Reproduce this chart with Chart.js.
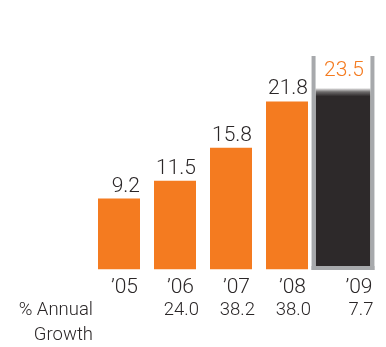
<!DOCTYPE html>
<html>
<head>
<meta charset="utf-8">
<script src="https://cdn.jsdelivr.net/npm/chart.js@4.4.1/dist/chart.umd.min.js"></script>
<style>
  html, body { margin: 0; padding: 0; background: #ffffff; }
  canvas { display: block; }
</style>
</head>
<body>
<canvas id="chart" width="386" height="347"></canvas>
<script>
// Revenue by year (billions) and year-over-year growth (%)
const years = ['\u201905', '\u201906', '\u201907', '\u201908', '\u201909'];
const revenue = [9.2, 11.5, 15.8, 21.8, 23.5];
const growth = [null, 24.0, 38.2, 38.0, 7.7];
const growthCaption = ['% Annual', 'Growth'];
const highlightIndex = 4; // latest year gets the framed dark bar

const ORANGE = '#f47b20';
const DARK = '#2d292a';
const FRAME = '#a7a9ac';
const TEXT = '#2a2627';
const FONT = 'Roboto, "Liberation Sans", Arial, sans-serif';
const FRAME_W = 4;

const pastValues = revenue.map((v, i) => (i === highlightIndex ? null : v));
const latestValues = revenue.map((v, i) => (i === highlightIndex ? v : null));

// Dark bar fades in softly at its top edge
function latestFill(context) {
  const chart = context.chart;
  const v = context.raw;
  if (!chart.chartArea || v == null) return DARK;
  const y = chart.scales.y.getPixelForValue(v);
  const g = chart.ctx.createLinearGradient(0, y, 0, y + 8);
  g.addColorStop(0, 'rgba(45,41,42,0.12)');
  g.addColorStop(0.45, 'rgba(45,41,42,0.7)');
  g.addColorStop(1, DARK);
  return g;
}

const annotate = {
  id: 'annotate',
  afterDatasetsDraw(chart) {
    const ctx = chart.ctx;
    const area = chart.chartArea;
    const past = chart.getDatasetMeta(0).data;
    const latest = chart.getDatasetMeta(1).data;
    const barAt = i => (i === highlightIndex ? latest[i] : past[i]);

    ctx.save();

    // grey frame around the latest bar
    const hb = latest[highlightIndex];
    const hl = hb.x - hb.width / 2;
    const hr = hb.x + hb.width / 2;
    const bottom = hb.base + 0.5;
    ctx.fillStyle = FRAME;
    ctx.fillRect(hl - FRAME_W, area.top, FRAME_W, bottom - area.top);
    ctx.fillRect(hr, area.top, FRAME_W, bottom - area.top);
    ctx.fillRect(hl - FRAME_W, bottom - FRAME_W, hb.width + 2 * FRAME_W, FRAME_W);

    ctx.textBaseline = 'alphabetic';
    const yearBase = area.bottom + 23.5;
    const growthBase = area.bottom + 45.5;

    years.forEach((label, i) => {
      const el = barAt(i);
      const isLatest = i === highlightIndex;
      const right = isLatest ? hr + FRAME_W : el.x + el.width / 2;

      // value above each bar
      ctx.font = '300 21px ' + FONT;
      if (isLatest) {
        ctx.fillStyle = ORANGE;
        ctx.textAlign = 'center';
        ctx.fillText(revenue[i].toFixed(1), el.x + 1, el.y - 12);
      } else {
        ctx.fillStyle = TEXT;
        ctx.textAlign = 'right';
        ctx.fillText(revenue[i].toFixed(1), right, el.y - 7);
      }

      // year label
      ctx.fillStyle = TEXT;
      ctx.textAlign = 'right';
      ctx.font = '300 21px ' + FONT;
      ctx.fillText(label, right - 2, yearBase);

      // growth row
      if (growth[i] != null) {
        ctx.font = '300 18.5px ' + FONT;
        ctx.fillText(growth[i].toFixed(1), right + (isLatest ? -1 : 3), growthBase);
      }
    });

    // row caption
    ctx.font = '300 18.5px ' + FONT;
    ctx.textAlign = 'right';
    ctx.fillStyle = TEXT;
    ctx.fillText(growthCaption[0], area.left + 2, growthBase);
    ctx.fillText(growthCaption[1], area.left + 2, growthBase + 25);

    ctx.restore();
  }
};

new Chart(document.getElementById('chart'), {
  type: 'bar',
  data: {
    labels: years,
    datasets: [
      {
        data: pastValues,
        backgroundColor: ORANGE,
        borderWidth: 0,
        barPercentage: 0.75,
        categoryPercentage: 1,
        grouped: false
      },
      {
        data: latestValues,
        backgroundColor: latestFill,
        borderWidth: 0,
        barPercentage: 0.98,
        categoryPercentage: 1,
        grouped: false
      }
    ]
  },
  options: {
    responsive: false,
    devicePixelRatio: 1,
    animation: false,
    layout: { padding: { left: 91, right: 15, top: 56, bottom: 77.5 } },
    plugins: { legend: { display: false }, tooltip: { enabled: false } },
    scales: {
      x: { display: false, grid: { display: false } },
      y: { display: false, min: 0, max: 27.7 }
    }
  },
  plugins: [annotate]
});
</script>
</body>
</html>
